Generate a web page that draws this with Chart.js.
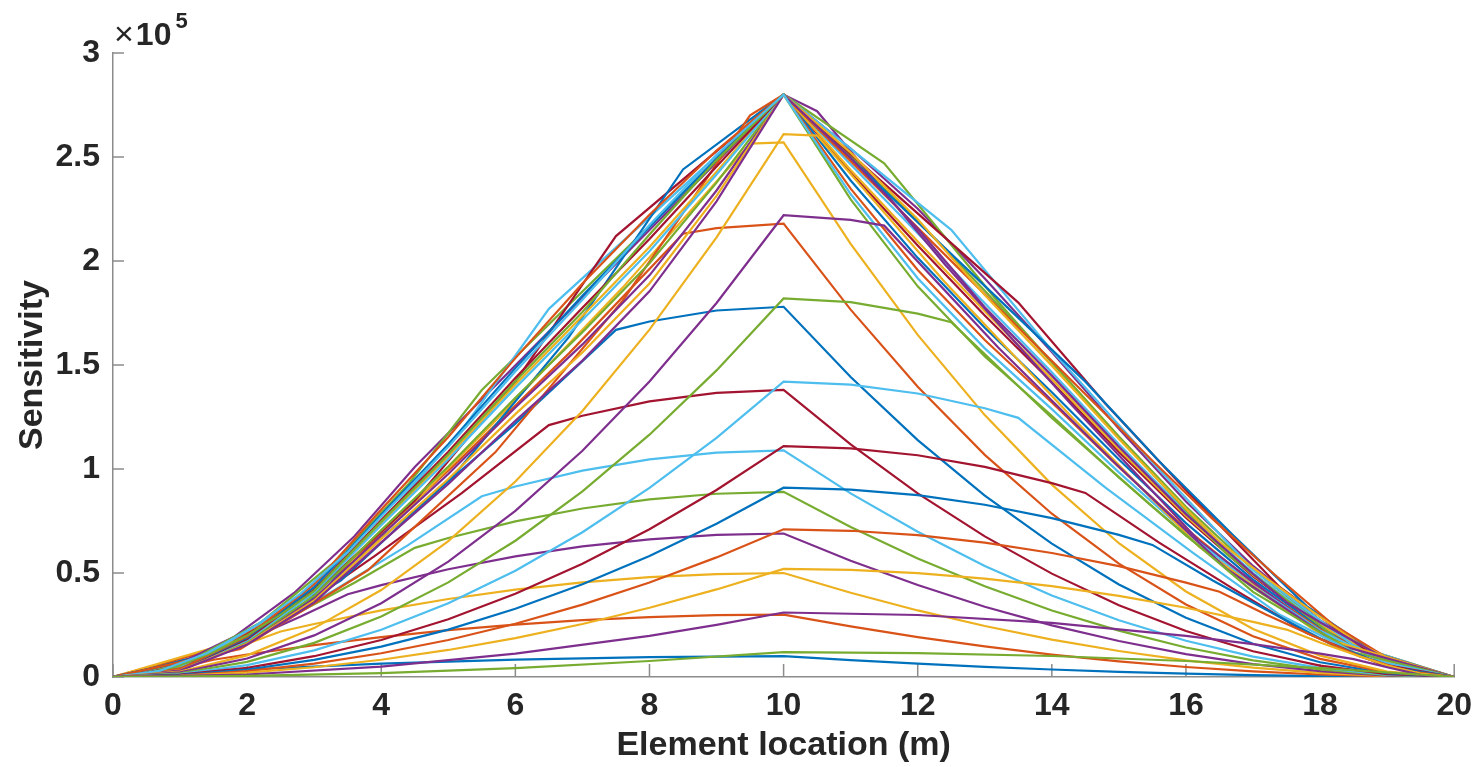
<!DOCTYPE html>
<html>
<head>
<meta charset="utf-8">
<script src="https://cdn.jsdelivr.net/npm/chart.js@4.4.1/dist/chart.umd.min.js"></script>
<style>
  html, body { margin: 0; padding: 0; background: #fff; }
  #wrap { width: 1482px; height: 767px; }
</style>
</head>
<body>
<div id="wrap"><canvas id="chart" width="1482" height="767"></canvas></div>
<script>
// MATLAB default line colours
const BLUE = '#0072BD', ORANGE = '#D95319', YELLOW = '#EDB120', PURPLE = '#7E2F8E',
      GREEN = '#77AC30', CYAN = '#4DBEEE', RED = '#A2142F';

const xTicks = [0, 2, 4, 6, 8, 10, 12, 14, 16, 18, 20];
const yTicks = [0, 0.5, 1, 1.5, 2, 2.5, 3];   // x 10^5

// curves, [location (m), sensitivity / 1e5]
// plateau curves, flat part left of midspan
const a1 = [[0,0],[0.5,0.01],[2,0.036],[4,0.064],[6,0.084],[8,0.096],[10,0.10],[11,0.081],[12,0.064],[13,0.049],[14,0.036],[15,0.025],[16,0.016],[17,0.009],[18,0.004],[19,0.001],[20,0]];
const a2 = [[0,0],[0.6,0.020],[1.2,0.061],[1.5,0.083],[2,0.108],[3,0.153],[4,0.192],[5,0.225],[6,0.252],[7,0.273],[8,0.288],[9,0.297],[10,0.30],[11,0.243],[12,0.192],[13,0.147],[14,0.108],[15,0.075],[16,0.048],[17,0.027],[18,0.012],[19,0.003],[20,0]];
const a3 = [[0,0],[0.5,0.015],[1,0.053],[1.5,0.105],[2,0.160],[2.5,0.219],[3,0.255],[4,0.32],[5,0.375],[6,0.42],[7,0.455],[8,0.48],[9,0.495],[10,0.5],[11,0.405],[12,0.32],[13,0.245],[14,0.18],[15,0.125],[16,0.08],[17,0.045],[18,0.02],[19,0.005],[20,0]];
const a4 = [[0,0],[0.7,0.028],[1.4,0.096],[2.1,0.191],[2.8,0.291],[3.5,0.398],[4,0.442],[5,0.518],[6,0.58],[7,0.628],[8,0.662],[9,0.683],[10,0.69],[11,0.559],[12,0.442],[13,0.338],[14,0.248],[15,0.173],[16,0.110],[17,0.062],[18,0.028],[19,0.007],[20,0]];
const a5 = [[0,0],[0.9,0.043],[1.8,0.149],[2.7,0.298],[3.6,0.453],[4.5,0.621],[5,0.668],[6,0.748],[7,0.81],[8,0.854],[9,0.881],[10,0.89],[11,0.721],[12,0.570],[13,0.436],[14,0.320],[15,0.223],[16,0.142],[17,0.080],[18,0.036],[19,0.009],[20,0]];
const a6 = [[0,0],[1.1,0.061],[2.2,0.209],[3.3,0.417],[4.4,0.634],[5.5,0.869],[6,0.916],[7,0.992],[8,1.046],[9,1.079],[10,1.09],[11,0.883],[12,0.698],[13,0.534],[14,0.392],[15,0.273],[16,0.174],[17,0.098],[18,0.044],[19,0.011],[20,0]];
const a7 = [[0,0],[1.3,0.085],[2.6,0.291],[3.9,0.581],[5.2,0.884],[6.5,1.211],[7,1.256],[8,1.325],[9,1.366],[10,1.38],[11,1.118],[12,0.883],[13,0.676],[14,0.497],[15,0.345],[16,0.221],[17,0.124],[18,0.055],[19,0.014],[20,0]];
const a8 = [[0,0],[1.5,0.117],[3,0.401],[4.5,0.801],[6,1.218],[7.5,1.669],[8,1.709],[9,1.762],[10,1.78],[11,1.442],[12,1.139],[13,0.872],[14,0.641],[15,0.445],[16,0.285],[17,0.160],[18,0.071],[19,0.018],[20,0]];
const a9 = [[0,0],[1.7,0.149],[3.4,0.511],[5.1,1.023],[6.8,1.556],[8.5,2.131],[9,2.158],[10,2.18],[11,1.766],[12,1.395],[13,1.068],[14,0.785],[15,0.545],[16,0.349],[17,0.196],[18,0.087],[19,0.022],[20,0]];
const a10 = [[0,0],[1.9,0.179],[3.8,0.615],[5.7,1.231],[7.6,1.872],[9.5,2.564],[10,2.57],[11,2.082],[12,1.645],[13,1.259],[14,0.925],[15,0.643],[16,0.411],[17,0.231],[18,0.103],[19,0.026],[20,0]];

// curves through the common peak, kink left of midspan
const b25 = [[0,0],[0.5,0.015],[1,0.057],[1.5,0.12],[2,0.201],[2.5,0.30],[3,0.414],[4,0.747],[5,1.071],[6,1.422],[7,1.755],[8,2.127],[9,2.485],[10,2.8],[11,2.296],[12,1.878],[13,1.541],[14,1.256],[15,0.959],[16,0.679],[17,0.429],[18,0.218],[19,0.062],[20,0]];
const b35 = [[0,0],[0.7,0.03],[1.4,0.114],[2.1,0.24],[2.8,0.402],[3.5,0.60],[4,0.772],[5,1.107],[6,1.469],[7,1.814],[8,2.173],[9,2.511],[10,2.8],[11,2.322],[12,1.917],[13,1.580],[14,1.288],[15,0.984],[16,0.696],[17,0.440],[18,0.224],[19,0.064],[20,0]];
const b45 = [[0,0],[0.9,0.051],[1.8,0.192],[2.7,0.404],[3.6,0.677],[4.5,1.01],[10,2.8],[11,2.541],[12,2.251],[13,1.916],[14,1.562],[15,1.193],[16,0.844],[17,0.534],[18,0.272],[19,0.078],[20,0]];
const b55 = [[0,0],[1.1,0.069],[2.2,0.262],[3.3,0.552],[4.4,0.925],[5.5,1.38],[10,2.8],[11,2.503],[12,2.192],[13,1.857],[14,1.513],[15,1.156],[16,0.818],[17,0.517],[18,0.263],[19,0.075],[20,0]];
const b65 = [[0,0],[1.3,0.089],[2.6,0.336],[3.9,0.708],[5.2,1.186],[6.5,1.77],[10,2.8],[11,2.464],[12,2.133],[13,1.797],[14,1.465],[15,1.119],[16,0.792],[17,0.501],[18,0.255],[19,0.073],[20,0]];
const b75 = [[0,0],[1.5,0.106],[3,0.403],[4.5,0.848],[6,1.420],[7.5,2.12],[10,2.8],[11,2.425],[12,2.074],[13,1.738],[14,1.417],[15,1.082],[16,0.766],[17,0.484],[18,0.246],[19,0.070],[20,0]];
const b85 = [[0,0],[1.7,0.122],[3.4,0.464],[5.1,0.976],[6.8,1.635],[8.5,2.44],[10,2.8],[11,2.387],[12,2.015],[13,1.679],[14,1.369],[15,1.046],[16,0.740],[17,0.468],[18,0.238],[19,0.068],[20,0]];
const b95 = [[0,0],[1.9,0.135],[3.8,0.513],[5.7,1.08],[7.6,1.809],[9.5,2.70],[10,2.8],[11,2.348],[12,1.957],[13,1.620],[14,1.320],[15,1.009],[16,0.713],[17,0.451],[18,0.230],[19,0.066],[20,0]];
const b100 = [[0,0],[1,0.036],[2,0.178],[3,0.409],[4,0.739],[5,1.059],[6,1.406],[7,1.736],[8,2.067],[9,2.429],[10,2.8],[11,2.438],[12,2.094],[13,1.758],[14,1.433],[15,1.095],[16,0.774],[17,0.490],[18,0.249],[19,0.071],[20,0]];

// curves through the common peak, kink right of midspan
const b105 = [[0,0],[1,0.033],[2,0.164],[3,0.377],[4,0.681],[5,0.976],[6,1.296],[7,1.599],[8,1.931],[9,2.339],[10,2.8],[10.5,2.72],[12.4,1.986],[14.3,1.306],[16.2,0.653],[18.1,0.190],[20,0]];
const b115 = [[0,0],[1,0.034],[2,0.170],[3,0.391],[4,0.706],[5,1.012],[6,1.343],[7,1.658],[8,1.989],[9,2.377],[10,2.8],[11.5,2.47],[13.2,1.803],[14.9,1.186],[16.6,0.593],[18.3,0.173],[20,0]];
const b125 = [[0,0],[1,0.035],[2,0.176],[3,0.405],[4,0.730],[5,1.047],[6,1.390],[7,1.716],[8,2.047],[9,2.416],[10,2.8],[12.5,2.15],[14,1.570],[15.5,1.032],[17,0.516],[18.5,0.151],[20,0]];
const b135 = [[0,0],[1,0.036],[2,0.182],[3,0.419],[4,0.755],[5,1.083],[6,1.438],[7,1.775],[8,2.106],[9,2.454],[10,2.8],[13.5,1.80],[14.8,1.314],[16.1,0.864],[17.4,0.432],[18.7,0.126],[20,0]];
const b145 = [[0,0],[1,0.038],[2,0.188],[3,0.432],[4,0.780],[5,1.119],[6,1.485],[7,1.833],[8,2.164],[9,2.493],[10,2.8],[14.5,1.42],[15.6,1.037],[16.7,0.682],[17.8,0.341],[18.9,0.099],[20,0]];
const b155 = [[0,0],[1,0.039],[2,0.194],[3,0.446],[4,0.805],[5,1.154],[6,1.533],[7,1.892],[8,2.222],[9,2.531],[10,2.8],[15.5,1.04],[16.4,0.759],[17.3,0.499],[18.2,0.250],[19.1,0.073],[20,0]];
const b165 = [[0,0],[1,0.032],[2,0.160],[3,0.368],[4,0.664],[5,0.952],[6,1.264],[7,1.560],[8,1.892],[9,2.313],[10,2.8],[11,2.521],[12,2.201],[13,1.837],[14,1.497],[15,1.144],[16,0.809],[16.5,0.65],[17.2,0.475],[17.9,0.312],[18.6,0.156],[19.3,0.046],[20,0]];
const b175 = [[0,0],[1,0.031],[2,0.156],[3,0.359],[4,0.647],[5,0.928],[6,1.232],[7,1.521],[8,1.854],[9,2.287],[10,2.8],[11,2.495],[12,2.155],[13,1.778],[14,1.449],[15,1.107],[16,0.783],[17,0.495],[17.5,0.36],[18,0.263],[18.5,0.173],[19,0.086],[19.5,0.025],[20,0]];

// plateau curves, flat part right of midspan
const c1 = [[0,0],[1,0.026],[2,0.104],[3,0.235],[4,0.418],[5,0.653],[6,0.940],[7,1.279],[8,1.670],[9,2.114],[10,2.61],[10.5,2.603],[12.4,1.900],[14.3,1.249],[16.2,0.625],[18.1,0.182],[20,0]];
const c2 = [[0,0],[1,0.022],[2,0.089],[3,0.200],[4,0.355],[5,0.555],[6,0.799],[7,1.088],[8,1.421],[9,1.798],[10,2.22],[11,2.198],[11.5,2.170],[13.2,1.584],[14.9,1.042],[16.6,0.521],[18.3,0.152],[20,0]];
const c3 = [[0,0],[1,0.018],[2,0.073],[3,0.164],[4,0.291],[5,0.455],[6,0.655],[7,0.892],[8,1.165],[9,1.474],[10,1.82],[11,1.802],[12,1.747],[12.5,1.706],[14,1.245],[15.5,0.819],[17,0.409],[18.5,0.119],[20,0]];
const c4 = [[0,0],[1,0.014],[2,0.057],[3,0.128],[4,0.227],[5,0.355],[6,0.511],[7,0.696],[8,0.909],[9,1.150],[10,1.42],[11,1.406],[12,1.363],[13,1.292],[13.5,1.246],[14.8,0.910],[16.1,0.598],[17.4,0.299],[18.7,0.087],[20,0]];
const c5 = [[0,0],[1,0.011],[2,0.044],[3,0.100],[4,0.178],[5,0.278],[6,0.400],[7,0.544],[8,0.710],[9,0.899],[10,1.11],[11,1.099],[12,1.066],[13,1.010],[14,0.932],[14.5,0.885],[15.6,0.646],[16.7,0.425],[17.8,0.212],[18.9,0.062],[20,0]];
const c6 = [[0,0],[1,0.009],[2,0.036],[3,0.082],[4,0.146],[5,0.228],[6,0.328],[7,0.446],[8,0.582],[9,0.737],[10,0.91],[11,0.901],[12,0.874],[13,0.828],[14,0.764],[15,0.683],[15.5,0.635],[16.4,0.464],[17.3,0.305],[18.2,0.152],[19.1,0.044],[20,0]];
const c7 = [[0,0],[1,0.007],[2,0.028],[3,0.064],[4,0.114],[5,0.178],[6,0.256],[7,0.348],[8,0.454],[9,0.575],[10,0.71],[11,0.703],[12,0.682],[13,0.646],[14,0.596],[15,0.533],[16,0.454],[16.5,0.410],[17.2,0.299],[17.9,0.197],[18.6,0.098],[19.3,0.029],[20,0]];
const c8 = [[0,0],[1,0.005],[2,0.021],[3,0.047],[4,0.083],[5,0.13],[6,0.187],[7,0.255],[8,0.333],[9,0.421],[10,0.52],[11,0.515],[12,0.499],[13,0.473],[14,0.437],[15,0.39],[16,0.333],[17,0.265],[17.5,0.228],[18,0.166],[18.5,0.109],[19,0.055],[19.5,0.016],[20,0]];
const c9 = [[0,0],[2,0.012],[4,0.050],[6,0.112],[8,0.198],[9,0.251],[10,0.31],[12,0.298],[14,0.260],[16,0.198],[17,0.158],[18,0.112],[18.5,0.086],[19,0.047],[19.5,0.01],[20,0]];
const c10 = [[0,0],[2,0.005],[4,0.019],[6,0.043],[8,0.077],[10,0.12],[12,0.115],[14,0.101],[16,0.077],[18,0.043],[19.5,0.012],[20,0]];

// plotting order and colour of every curve (last one ends up on top)
const series = [
  [a1, BLUE], [a2, ORANGE], [a3, YELLOW], [a4, PURPLE], [a5, GREEN], [a6, CYAN], [a7, RED],
  [a8, BLUE], [a9, ORANGE], [a10, YELLOW],
  [b45, PURPLE], [b55, GREEN], [b65, CYAN], [b75, RED], [b85, BLUE], [b95, ORANGE], [b100, YELLOW],
  [b105, PURPLE], [b115, GREEN], [b125, CYAN], [b135, RED], [b145, BLUE], [b155, ORANGE],
  [b165, YELLOW], [b175, PURPLE], [b25, GREEN], [b35, CYAN],
  [c1, YELLOW], [c2, PURPLE], [c3, GREEN], [c4, CYAN], [c5, RED], [c6, BLUE], [c7, ORANGE],
  [c8, YELLOW], [c9, PURPLE], [c10, GREEN]
];

const AXIS_GRAY = '#8c8c8c';
const TEXT = '#262626';
const FAMILY = "'Liberation Sans', Arial, Helvetica, sans-serif";

// MATLAB style: ticks pointing into the axes, exponent above the y axis
const matlabAxes = {
  id: 'matlabAxes',
  beforeDatasetsDraw(chart) {
    const {ctx, chartArea: a, scales: {x, y}} = chart;
    ctx.save();
    ctx.strokeStyle = AXIS_GRAY;
    ctx.lineWidth = 1.5;
    ctx.beginPath();
    x.ticks.forEach(t => {
      const px = x.getPixelForValue(t.value);
      ctx.moveTo(px, a.bottom);
      ctx.lineTo(px, a.bottom - 13);
    });
    y.ticks.forEach(t => {
      const py = y.getPixelForValue(t.value);
      ctx.moveTo(a.left, py);
      ctx.lineTo(a.left + 11, py);
    });
    ctx.stroke();
    ctx.restore();
  },
  afterDraw(chart) {
    const {ctx, chartArea: a} = chart;
    ctx.save();
    ctx.fillStyle = TEXT;
    ctx.textBaseline = 'alphabetic';
    ctx.textAlign = 'left';
    let px = a.left + 1;
    const base = a.top - 8;
    ctx.font = '34px ' + FAMILY;
    ctx.fillText('\u00d7', px, base);
    px += ctx.measureText('\u00d7').width + 2;
    ctx.font = 'bold 32px ' + FAMILY;
    ctx.fillText('10', px, base);
    px += ctx.measureText('10').width + 4;
    ctx.font = 'bold 22px ' + FAMILY;
    ctx.fillText('5', px, base - 17);
    ctx.restore();
  }
};

const datasets = series.map(([pts, col]) => ({
  data: pts,
  borderColor: col,
  backgroundColor: col,
  borderWidth: 2.2,
  pointRadius: 0,
  tension: 0,
  fill: false
})).reverse();

new Chart(document.getElementById('chart'), {
  type: 'line',
  data: { datasets: datasets },
  options: {
    responsive: false,
    animation: false,
    devicePixelRatio: 1,
    layout: { padding: { left: 0, top: 53, right: 24, bottom: 0 } },
    plugins: { legend: { display: false }, tooltip: { enabled: false } },
    scales: {
      x: {
        type: 'linear',
        min: 0, max: 20,
        afterBuildTicks: s => { s.ticks = xTicks.map(v => ({ value: v })); },
        afterFit: s => { s.height = 90; },
        grid: { display: false, drawTicks: false },
        border: { display: true, color: AXIS_GRAY, width: 1.5 },
        ticks: { color: TEXT, padding: 10, maxRotation: 0, font: { family: FAMILY, size: 32, weight: 'bold' } },
        title: { display: true, text: 'Element location (m)', color: TEXT, padding: { top: 0, bottom: 1 },
                 font: { family: FAMILY, size: 34, weight: 'bold' } }
      },
      y: {
        type: 'linear',
        min: 0, max: 3,
        afterBuildTicks: s => { s.ticks = yTicks.map(v => ({ value: v })); },
        afterFit: s => { s.width = 113; },
        grid: { display: false, drawTicks: false },
        border: { display: true, color: AXIS_GRAY, width: 1.5 },
        ticks: { color: TEXT, padding: 13, callback: v => String(v),
                 font: { family: FAMILY, size: 32, weight: 'bold' } },
        title: { display: true, text: 'Sensitivity', color: TEXT, padding: { top: 12, bottom: 0 },
                 font: { family: FAMILY, size: 34, weight: 'bold' } }
      }
    }
  },
  plugins: [matlabAxes]
});
</script>
</body>
</html>
